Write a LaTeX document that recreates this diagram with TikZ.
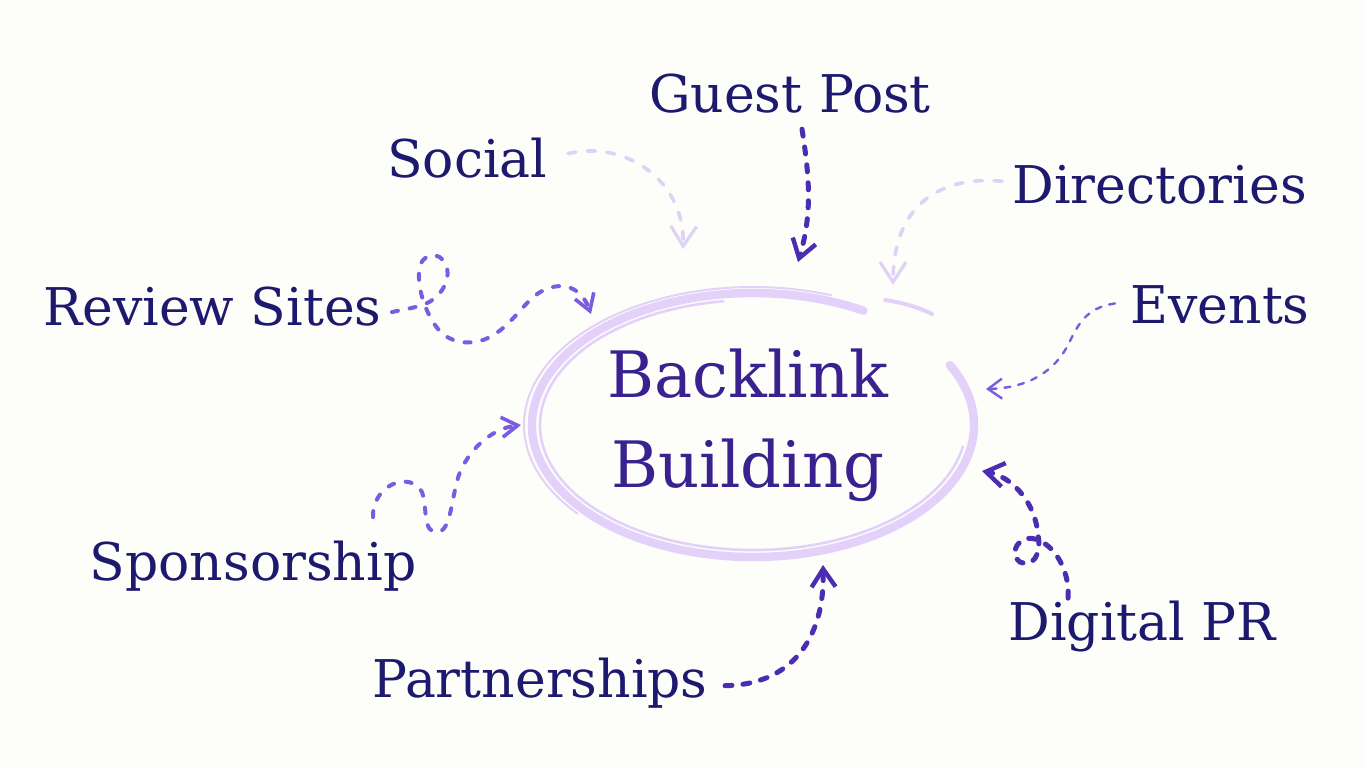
\documentclass[tikz,border=0pt]{standalone}
\usepackage{fontspec}
\setmainfont{DejaVu Serif}
\usetikzlibrary{arrows.meta,calc}
\definecolor{labelcol}{HTML}{1C196E}
\definecolor{hubcol}{HTML}{3A2190}
\definecolor{darkarr}{HTML}{4A2DB0}
\definecolor{midarr}{HTML}{7A5CE0}
\definecolor{lightarr}{HTML}{E0D1F7}
\definecolor{brushcol}{HTML}{E4D1FA}
\definecolor{bgcol}{HTML}{FDFDF9}
\tikzset{
  arrdark/.style={draw=darkarr, line width=2.5pt, line cap=round, dash pattern=on 3.5pt off 5.5pt,
    -{Straight Barb[length=9pt,width=12pt,line width=2.2pt]}},
  arrmid/.style={draw=midarr, line width=2pt, line cap=round, dash pattern=on 3pt off 6pt,
    -{Straight Barb[length=8pt,width=10pt,line width=1.8pt]}},
  arrthin/.style={draw=midarr, line width=1.2pt, line cap=round, dash pattern=on 3pt off 4pt,
    -{Straight Barb[length=7pt,width=10pt,line width=1.2pt]}},
  arrlight/.style={draw=lightarr, line width=1.8pt, line cap=round, dash pattern=on 4pt off 5.8pt,
    -{Straight Barb[length=10pt,width=13pt,line width=1.6pt]}},
  brush/.style={draw=brushcol, line cap=round}
}
\begin{document}
\begin{tikzpicture}[x=0.5pt, y=-0.5pt,
    lbl/.style={inner sep=0pt, text=labelcol, font=\fontsize{26}{30}\selectfont}]
    \fill[bgcol] (0,0) rectangle (1366,768);

    % brushed ring round the centre
    \coordinate (ctr) at (753,425);
    \draw[brush, line width=4.2pt] (ctr) ++(-27:221 and 132) arc[start angle=-27, end angle=300, x radius=221, y radius=132];
    \draw[brush, line width=1.3pt] (ctr) ++(10:213 and 125) arc[start angle=10, end angle=262, x radius=213, y radius=125];
    \draw[brush, line width=1pt] (ctr) ++(140:229 and 138) arc[start angle=140, end angle=290, x radius=229, y radius=138];
    \draw[brush, line width=2pt] (885,300) .. controls (905,303) and (920,308) .. (932,314);

    \node[inner sep=0pt, text=hubcol, align=center, font=\fontsize{32}{45}\selectfont] (hub) at (748,425) {Backlink\\Building};

    \node[lbl, anchor=base] (guest) at (790,112) {Guest Post};
    \node[lbl, anchor=base east] (social) at (548,177) {Social};
    \node[lbl, anchor=base west] (directories) at (1012,203) {Directories};
    \node[lbl, anchor=base east] (review) at (382,325) {Review Sites};
    \node[lbl, anchor=base west] (events) at (1130,323) {Events};
    \node[lbl, anchor=base] (sponsor) at (253,580) {Sponsorship};
    \node[lbl, anchor=base east] (partner) at (708,697) {Partnerships};
    \node[lbl, anchor=base west] (digital) at (1008,640) {Digital PR};

    \coordinate (guesttip) at (798,262);
    \coordinate (socialtip) at (683,249);
    \coordinate (dirtip) at (893,285);
    \coordinate (reviewtip) at (591,314);
    \coordinate (eventstip) at (986,389);
    \coordinate (sponsortip) at (521,425);
    \coordinate (partnertip) at (823,565);
    \coordinate (digitaltip) at (982,471);

    \draw[arrdark] ($(guest.south)+(12,16)$) .. controls (810,180) and (812,215) .. (guesttip);
    \draw[arrlight] ($(social.east)+(20,-4)$) .. controls (625,140) and (685,180) .. (socialtip);
    \draw[arrlight] ($(directories.west)+(-10,-3)$) .. controls (935,175) and (893,210) .. (dirtip);
    \draw[arrthin] ($(events.west)+(-15,-1)$) .. controls (1085,308) and (1078,325) .. (1068,345)
        .. controls (1055,370) and (1030,388) .. (eventstip);
    \draw[arrmid] ($(review.east)+(10,6)$) .. controls (405,309) and (415,308) .. (425,304)
        .. controls (440,298) and (452,280) .. (446,265)
        .. controls (440,250) and (420,252) .. (419,272)
        .. controls (418,290) and (425,310) .. (435,325)
        .. controls (445,340) and (460,344) .. (475,342)
        .. controls (500,338) and (515,315) .. (530,300)
        .. controls (548,282) and (578,278) .. (reviewtip);
    \draw[arrmid] ($(sponsor.north)+(120,-23)$) .. controls (372,485) and (410,470) .. (422,492)
        .. controls (428,510) and (422,532) .. (437,532)
        .. controls (452,532) and (451,495) .. (460,472)
        .. controls (472,445) and (495,428) .. (sponsortip);
    \draw[arrdark] ($(partner.east)+(17,3)$) .. controls (790,685) and (825,640) .. (partnertip);
    \draw[arrdark] ($(digital.north west)+(60,-2)$) .. controls (1070,575) and (1058,548) .. (1038,540)
        .. controls (1018,532) and (1008,555) .. (1020,562)
        .. controls (1032,568) and (1042,555) .. (1038,535)
        .. controls (1035,500) and (1010,476) .. (digitaltip);
\end{tikzpicture}
\end{document}
